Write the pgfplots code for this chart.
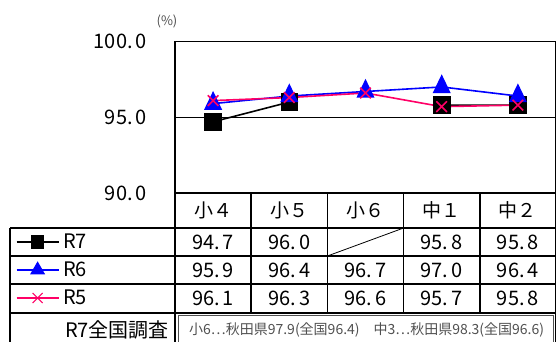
\documentclass[border=0pt]{standalone}
\usepackage{fontspec}
\setmainfont{Noto Sans CJK JP}
\usepackage{pgfplots}
\pgfplotsset{compat=1.18}
\usepackage{pgfplotstable}
\definecolor{rfive}{RGB}{255,0,102}
\definecolor{notegray}{RGB}{80,80,80}

% attendance rates (%) by grade
\pgfplotstableread{
x R7 R6 R5
0 94.7 95.9 96.1
1 96.0 96.4 96.3
2 nan 96.7 96.6
3 95.8 97.0 95.7
4 95.8 96.4 95.8
}\rates

\newcommand\pct[1]{\pgfmathprintnumber[fixed,fixed zerofill,precision=1,set decimal separator={.\hspace{3pt}},assume math mode=true]{#1}}
\newcommand\bigfont{\fontsize{20}{24}\selectfont}
\def\nanstr{nan}

\begin{document}
\begin{tikzpicture}
\begin{axis}[
  at={(175pt,149pt)}, anchor=south west,
  scale only axis, width=381pt, height=151.5pt,
  xmin=-0.5, xmax=4.5, ymin=90, ymax=100,
  xtick=\empty,
  ytick={90,95,100},
  major tick length=0pt,
  yticklabel={\pct{\tick}},
  yticklabel style={font=\bigfont, anchor=east, inner sep=0pt, xshift=-28pt},
  ymajorgrids, major grid style={black, line width=0.8pt},
  axis line style={line width=1.6pt},
  legend style={at={(axis description cs:-0.4173,-0.2310)}, anchor=north west,
    draw=none, fill=none, inner sep=0pt, outer sep=0pt,
    row sep=0pt, column sep=4pt, font=\bigfont,
    nodes={inner sep=0pt, minimum height=28pt}},
  legend cell align=left,
  legend image code/.code={\draw[mark repeat=2,mark phase=2,#1]
    plot coordinates {(0pt,0pt)(21pt,0pt)(42pt,0pt)};},
]
\addlegendimage{black, line width=1.2pt, mark=square*, mark size=6pt}
\addlegendentry{R7}
\addlegendimage{blue, line width=1.2pt, mark=triangle*, mark size=7.5pt}
\addlegendentry{R6}
\addlegendimage{rfive, line width=1.2pt, mark=x, mark size=7pt}
\addlegendentry{R5}

\addplot[black, line width=1.6pt, mark=square*, mark size=8pt,
  unbounded coords=jump, forget plot] table[x=x,y=R7]{\rates};
\addplot[blue, line width=1.6pt, mark=triangle*, mark size=9pt,
  mark options={yscale=1.2}, forget plot] table[x=x,y=R6]{\rates};
\addplot[rfive, line width=1.6pt, mark=x, mark size=7.5pt,
  forget plot] table[x=x,y=R5]{\rates};
\end{axis}

\begin{scope}[x=1pt,y=1pt]
% unit
\node[font=\fontsize{13}{15}\selectfont, text=notegray] at (167,321) {(\%)};

% data table grid
\begin{scope}[line width=1.5pt]
  \draw (10,114) -- (556,114);
  \draw (10,86) -- (556,86);
  \draw (10,58) -- (556,58);
  \draw (10,29) -- (556,29);
  \draw (10,114) -- (10,-5);
  \draw (175,149) -- (175,-5);
  \foreach \c in {251.2,327.4,403.6,479.8} \draw (\c,149) -- (\c,29);
  \draw (556,149) -- (556,-5);
\end{scope}
\draw[line width=0.8pt] (327.4,86) -- (403.6,114);

% grade headers
\foreach \g [count=\i from 0] in {小４,小５,小６,中１,中２} {
  \pgfmathsetmacro{\cx}{213.1+76.2*\i}
  \node[font=\fontsize{19}{23}\selectfont] at (\cx,131.5) {\g};
}

% values
\foreach \s/\cy in {R7/100,R6/72,R5/43.5} {
  \foreach \i in {0,...,4} {
    \pgfplotstablegetelem{\i}{\s}\of\rates
    \ifx\pgfplotsretval\nanstr\else
      \pgfmathsetmacro{\cx}{213.1+76.2*\i}
      \node[font=\bigfont] at (\cx,\cy) {\pct{\pgfplotsretval}};
    \fi
  }
}

% national survey row
\node[font=\bigfont, anchor=east, inner sep=0pt] at (169,12) {R7全国調査};
\draw[notegray, line width=0.8pt] (178.5,-5) -- (178.5,26.5) -- (553,26.5) -- (553,-5);
\node[font=\fontsize{14}{16}\selectfont, text=notegray, anchor=west, inner sep=0pt] at (189,12)
  {小6…秋田県97.9(全国96.4)　中3…秋田県98.3(全国96.6)};

\pgfresetboundingbox
\path[use as bounding box] (0,0) rectangle (556,342);
\end{scope}
\end{tikzpicture}
\end{document}
